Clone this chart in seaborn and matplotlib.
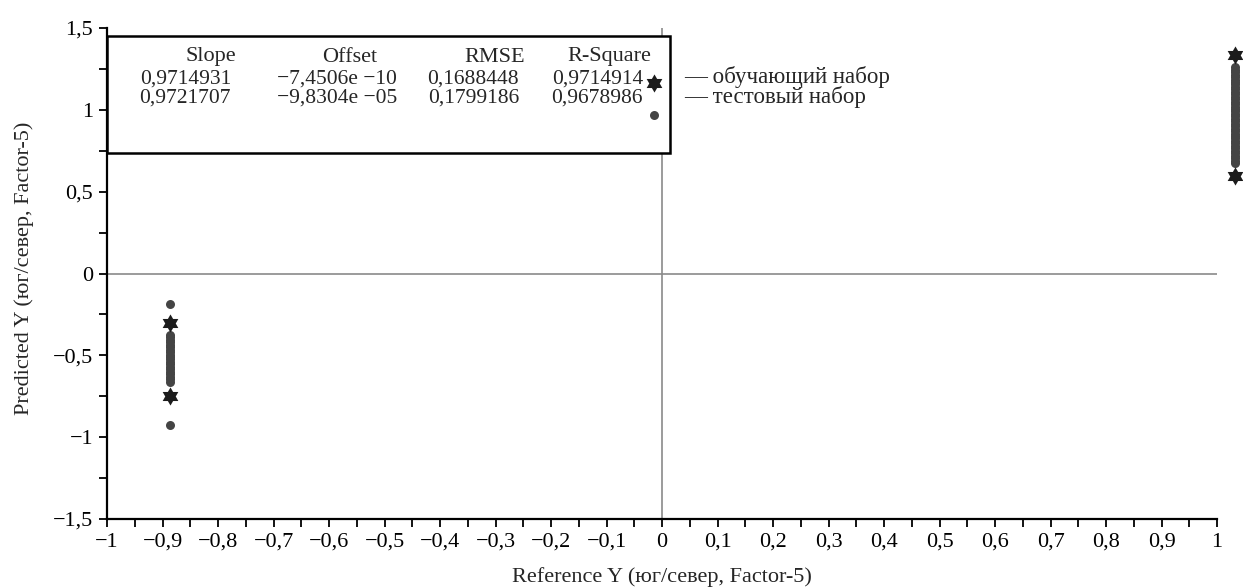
import numpy as np
import pandas as pd
import seaborn as sns
import matplotlib.pyplot as plt
from matplotlib.path import Path
from matplotlib.patches import Rectangle

# values
train_ref = [-0.887, -0.887, 1.032, 1.032]
train_pred = [-0.30, -0.75, 1.335, 0.595]

left_bar = [-0.375, -0.39, -0.405, -0.42, -0.435, -0.45, -0.465, -0.48,
            -0.495, -0.51, -0.525, -0.54, -0.555, -0.57, -0.585, -0.60,
            -0.615, -0.63, -0.645, -0.66]
right_bar = [0.675, 0.69, 0.705, 0.72, 0.735, 0.75, 0.765, 0.78, 0.795,
             0.81, 0.825, 0.84, 0.855, 0.87, 0.885, 0.90, 0.915, 0.93,
             0.945, 0.96, 0.975, 0.99, 1.005, 1.02, 1.035, 1.05, 1.065,
             1.08, 1.095, 1.11, 1.125, 1.14, 1.155, 1.17, 1.185, 1.20,
             1.215, 1.23, 1.245, 1.26]
test_ref = [-0.887] * (2 + len(left_bar)) + [1.032] * len(right_bar)
test_pred = [-0.186, -0.925] + left_bar + right_bar

x_ticks = [-1, -0.9, -0.8, -0.7, -0.6, -0.5, -0.4, -0.3, -0.2, -0.1,
           0, 0.1, 0.2, 0.3, 0.4, 0.5, 0.6, 0.7, 0.8, 0.9, 1]
x_labels = ['\u22121', '\u22120,9', '\u22120,8', '\u22120,7', '\u22120,6',
            '\u22120,5', '\u22120,4', '\u22120,3', '\u22120,2', '\u22120,1',
            '0', '0,1', '0,2', '0,3', '0,4', '0,5', '0,6', '0,7', '0,8', '0,9', '1']
y_ticks = [-1.5, -1, -0.5, 0, 0.5, 1, 1.5]
y_labels = ['\u22121,5', '\u22121', '\u22120,5', '0', '0,5', '1', '1,5']

headers = ['Slope', 'Offset', 'RMSE', 'R-Square']
train_stats = ['0,9714931', '\u22127,4506e \u221210', '0,1688448', '0,9714914']
test_stats = ['0,9721707', '\u22129,8304e \u221205', '0,1799186', '0,9678986']
set_names = ['\u2014 обучающий набор', '\u2014 тестовый набор']

train = pd.DataFrame({'ref': train_ref, 'pred': train_pred})
test = pd.DataFrame({'ref': test_ref, 'pred': test_pred})

sns.set_style('white')
plt.rcParams['font.family'] = ['Liberation Serif', 'DejaVu Serif']
plt.rcParams['axes.unicode_minus'] = True

star = Path.unit_regular_star(6, 0.58)

fig = plt.figure(figsize=(12.43, 5.87), dpi=100)
ax = fig.add_axes([0.0861, 0.1158, 0.893, 0.8365])

ax.axhline(0, color='#8a8a8a', lw=1.2, zorder=1)
ax.axvline(0, color='#8a8a8a', lw=1.2, zorder=1)

sns.scatterplot(data=test, x='ref', y='pred', ax=ax, color='#444444',
                s=42, linewidth=0, legend=False, zorder=4)
sns.scatterplot(data=train, x='ref', y='pred', ax=ax, color='#1c1c1c',
                marker=star, s=170, linewidth=0, legend=False, zorder=5)
for c in ax.collections:
    c.set_clip_on(False)

ax.set_xlim(-1, 1)
ax.set_ylim(-1.5, 1.5)
ax.set_xticks(x_ticks)
ax.set_xticklabels(x_labels)
ax.set_yticks(y_ticks)
ax.set_yticklabels(y_labels)
ax.set_xticks(np.arange(-0.95, 1.0, 0.1), minor=True)
ax.set_yticks(np.arange(-1.25, 1.5, 0.5), minor=True)
ax.tick_params(which='both', direction='out', length=6, width=1.3,
               color='black', labelsize=16, pad=4, labelcolor='black')
ax.tick_params(axis='x', which='both', bottom=True)
ax.tick_params(axis='y', which='both', left=True)

for side in ['top', 'right']:
    ax.spines[side].set_visible(False)
for side in ['left', 'bottom']:
    ax.spines[side].set_color('black')
    ax.spines[side].set_linewidth(1.6)

ax.set_xlabel('Reference Y (юг/север, Factor-5)', fontsize=16)
ax.set_ylabel('Predicted Y (юг/север, Factor-5)', fontsize=16)
ax.xaxis.set_label_coords(0.5, -0.098)
ax.yaxis.set_label_coords(-0.066, 0.51)

# statistics table box
ax.add_patch(Rectangle((0, 0.745), 0.507, 0.239, transform=ax.transAxes,
                       facecolor='white', edgecolor='black', lw=1.8,
                       zorder=3, clip_on=False))

W, H = 1243, 587
col_right_head = [236, 377, 525, 651]
col_right_val = [231, 397, 519, 643]
for i in range(4):
    fig.text(col_right_head[i] / W, 1 - 57 / H, headers[i], ha='right',
             va='center', fontsize=16)
    fig.text(col_right_val[i] / W, 1 - 79 / H, train_stats[i], ha='right',
             va='center', fontsize=15.5)
    fig.text(col_right_val[i] / W, 1 - 98 / H, test_stats[i], ha='right',
             va='center', fontsize=15.5)

# legend symbols inside the box and set names outside it
ax.scatter([-0.014], [1.165], marker=star, s=170, color='#1c1c1c',
           linewidth=0, zorder=6, clip_on=False)
ax.scatter([-0.014], [0.97], s=42, color='#444444', linewidth=0,
           zorder=6, clip_on=False)
fig.text(684 / W, 1 - 77 / H, set_names[0], ha='left', va='center', fontsize=16.5)
fig.text(684 / W, 1 - 97 / H, set_names[1], ha='left', va='center', fontsize=16.5)

fig.savefig('out.png', dpi=100)
